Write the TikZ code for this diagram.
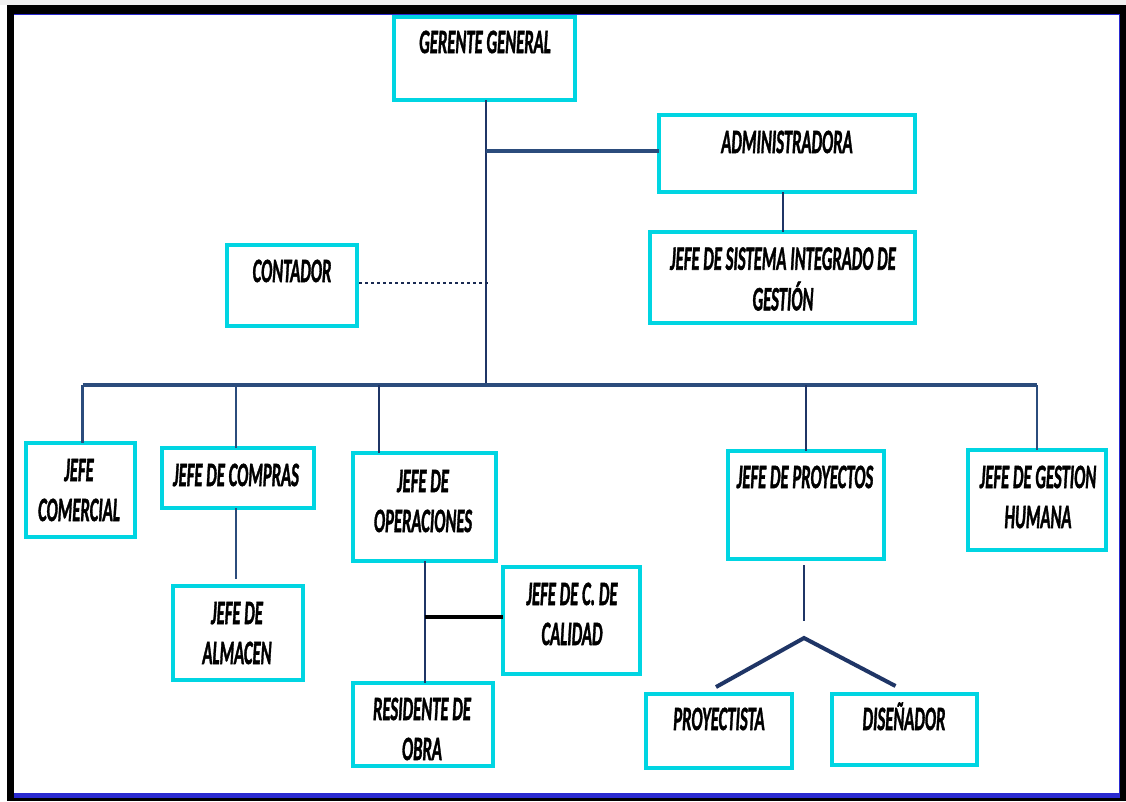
\documentclass[tikz,border=0pt]{standalone}
\usepackage{fontspec}
\setmainfont{Carlito}[BoldItalicFeatures={FakeBold=1.8}]
\usetikzlibrary{calc}
\definecolor{boxc}{HTML}{00D5E2}
\definecolor{linec}{HTML}{1F3566}
\definecolor{busc}{HTML}{2B4C7C}
\definecolor{framebl}{HTML}{2A2AD0}
\newcommand\orgtxt[1]{\scalebox{0.49}[1]{\fontsize{34}{40}\selectfont\bfseries\itshape\begin{tabular}{@{}c@{}}#1\end{tabular}}}
\tikzset{
  orgbox/.style 2 args={draw=boxc, line width=3.5pt, minimum width=#1pt, minimum height=#2pt, inner sep=0pt, outer sep=0pt},
  orglabel/.style={inner sep=0pt, text=black},
  thinconn/.style={draw=linec, line width=2pt},
  thickconn/.style={draw=busc, line width=4.5pt},
  blackconn/.style={draw=black, line width=4pt},
  dotconn/.style={draw=linec!80!black, line width=2.5pt, dash pattern=on 2.5pt off 3.5pt}
}
\begin{document}
\begin{tikzpicture}[x=1pt,y=-1pt]
\useasboundingbox (0,0) rectangle (1126,801);
\fill[white] (0,0) rectangle (1126,801);
\fill[gray!12] (0,0) rectangle (1126,5);
% frame
\fill[black] (7,5) rectangle (1126,801);
\fill[framebl] (14,14) rectangle (1120,798);
\fill[white] (14,15) rectangle (1119,793);

% boxes
\node[orgbox={181}{83}]  (gg)   at (484.5,58.5) {};
\node[orgbox={256}{77}]  (adm)  at (787,153.5) {};
\node[orgbox={265}{91}]  (jsig) at (782.5,277.5) {};
\node[orgbox={130}{81}]  (cont) at (292,285.5) {};
\node[orgbox={109}{94}]  (com)  at (80.5,490) {};
\node[orgbox={152}{60}]  (comp) at (238,478) {};
\node[orgbox={130}{94}]  (alm)  at (238,633) {};
\node[orgbox={143}{108}] (op)   at (424.5,507) {};
\node[orgbox={137}{107}] (cal)  at (571.5,620.5) {};
\node[orgbox={140}{83}]  (res)  at (423,724.5) {};
\node[orgbox={156}{108}] (proy) at (806,505) {};
\node[orgbox={138}{100}] (gh)   at (1037,500) {};
\node[orgbox={146}{74}]  (pt)   at (719,731) {};
\node[orgbox={145}{71}]  (dis)  at (904.5,729.5) {};

% labels
\node[orglabel] (ggt)   at (485,45)  {\orgtxt{GERENTE GENERAL}};
\node[orglabel] (admt)  at (787,145) {\orgtxt{ADMINISTRADORA}};
\node[orglabel] (jsigt) at (783,282) {\orgtxt{JEFE DE SISTEMA INTEGRADO DE\\GESTIÓN}};
\node[orglabel] (contt) at (292,274) {\orgtxt{CONTADOR}};
\node[orglabel] (comt)  at (79,493)  {\orgtxt{JEFE\\COMERCIAL}};
\node[orglabel] (compt) at (236,478) {\orgtxt{JEFE DE COMPRAS}};
\node[orglabel] (almt)  at (237,636) {\orgtxt{JEFE DE\\ALMACEN}};
\node[orglabel] (opt)   at (423,504) {\orgtxt{JEFE DE\\OPERACIONES}};
\node[orglabel] (calt)  at (572,617) {\orgtxt{JEFE DE C. DE\\CALIDAD}};
\node[orglabel] (rest)  at (422,732) {\orgtxt{RESIDENTE DE\\OBRA}};
\node[orglabel] (proyt) at (805,480) {\orgtxt{JEFE DE PROYECTOS}};
\node[orglabel] (ght)   at (1038,500) {\orgtxt{JEFE DE GESTION\\HUMANA}};
\node[orglabel] (ptt)   at (719,722) {\orgtxt{PROYECTISTA}};
\node[orglabel] (dist)  at (904,722) {\orgtxt{DISEÑADOR}};

% helper coordinates
\coordinate (busL) at ($(com.north)+(2,-58)$);
\coordinate (opdrop) at ($(op.north west)+(26,0)$);
\coordinate (apex) at ($(proy.south)+(-2,79)$);
\coordinate (admS) at ($(adm.south)+(-4,0)$);
\coordinate (contE) at ($(cont.east)+(2,-2.5)$);
\coordinate (calW) at ($(cal.west)+(0,-3.5)$);
\coordinate (compS) at ($(comp.south)+(-2,0)$);
\coordinate (compN) at ($(comp.north)+(-2,0)$);
\coordinate (comN) at ($(com.north)+(2,0)$);
\coordinate (trunkX) at ($(gg.south)+(1.5,0)$);

% trunk
\draw[thinconn] (trunkX) -- (trunkX |- busL);
% administradora
\draw[thickconn] (trunkX |- 0,151) -- (adm.west |- 0,151);
\draw[thinconn] (admS) -- (admS |- jsig.north);
% contador
\draw[dotconn] (contE) -- ($(contE -| trunkX)+(2,0)$);
% bus
\draw[thickconn] (busL) -- (gh.north |- busL);
\draw[thinconn, draw=busc, line width=2.8pt] (busL) -- (comN);
\draw[thinconn, draw=busc, line width=2.5pt] (compN |- busL) -- (compN);
\draw[thinconn] (opdrop |- busL) -- (opdrop);
\draw[thinconn] (proy.north |- busL) -- (proy.north);
\draw[thinconn, draw=busc, line width=2.8pt] (gh.north |- busL) -- (gh.north);
% compras -> almacen
\draw[thinconn, draw=busc, line width=2.5pt] (compS) -- ($(alm.north)+(-2,-7)$);
% operaciones -> residente, calidad
\draw[thinconn] (op.south) -- (op.south |- res.north);
\draw[blackconn] (op.south |- calW) -- (calW);
% proyectos -> proyectista, disenador
\draw[thinconn] ($(proy.south)+(-2,6)$) -- ($(proy.south)+(-2,62)$);
\draw[thickconn, draw=linec, line width=4pt] ($(pt.north)+(-3,-7)$) -- (apex) -- ($(dis.north)+(-9,-8)$);
\end{tikzpicture}
\end{document}
